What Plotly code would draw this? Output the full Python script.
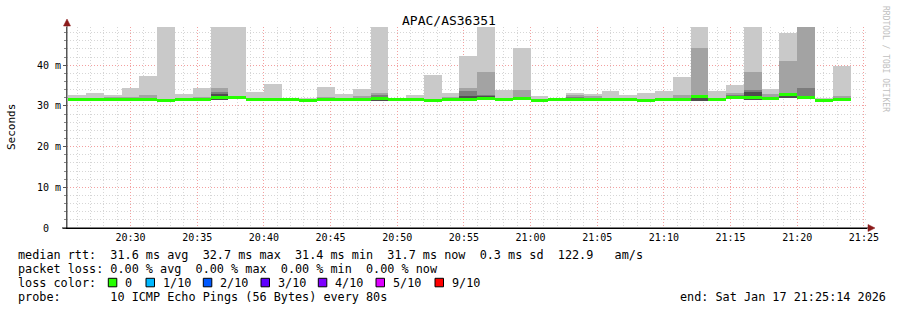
import pandas as pd
import plotly.graph_objects as go

# ---------------- data (ms) ----------------
step_seconds = 80
first_slot = "2026-01-17 20:25:20"
range_start = "2026-01-17 20:25:14"
range_end = "2026-01-17 21:25:14"

median = [31.6, 31.7, 31.5, 31.6, 31.6, 31.4, 31.6, 31.6, 32.0, 32.1, 31.6, 31.6,
          31.6, 31.4, 31.6, 31.6, 31.6, 31.8, 31.6, 31.6, 31.4, 31.6, 31.7, 31.8,
          31.6, 31.9, 31.4, 31.6, 31.6, 31.6, 31.6, 31.6, 31.4, 31.5, 31.6, 32.3,
          31.6, 32.0, 32.1, 31.9, 32.7, 32.0, 31.4, 31.7]
smoke_max = [32.7, 33.3, 32.7, 34.4, 37.4, 52.0, 32.9, 34.4, 52.0, 52.0, 33.4, 35.4,
             32.0, 32.0, 34.7, 32.9, 34.2, 52.0, 32.0, 32.7, 37.6, 33.2, 42.3, 52.0,
             33.8, 44.3, 32.5, 32.0, 33.2, 32.9, 33.7, 32.7, 33.2, 33.7, 37.1, 52.0,
             33.7, 35.2, 52.0, 34.2, 47.9, 52.0, 32.0, 39.8]
smoke_p2 = [31.8, 31.9, 32.3, 32.3, 32.7, 31.7, 31.8, 32.2, 34.4, 32.4, 31.9, 31.9,
            31.8, 31.6, 32.2, 31.9, 32.5, 33.2, 31.8, 31.9, 31.7, 32.2, 34.3, 38.4,
            31.9, 33.8, 31.6, 31.8, 32.7, 32.5, 31.9, 31.9, 31.6, 31.8, 32.7, 44.3,
            31.9, 33.2, 38.4, 32.9, 41.1, 52.0, 31.6, 32.5]
smoke_p3 = [31.6, 31.7, 31.5, 31.6, 31.6, 31.4, 31.6, 31.6, 33.4, 32.1, 31.6, 31.6,
            31.6, 31.4, 31.6, 31.6, 31.6, 32.6, 31.6, 31.6, 31.4, 31.6, 33.7, 32.7,
            31.6, 31.9, 31.4, 31.6, 32.2, 31.6, 31.6, 31.6, 31.4, 31.5, 31.6, 32.6,
            31.6, 32.6, 33.9, 32.3, 33.2, 34.4, 31.4, 31.7]
smoke_p4 = [31.6, 31.7, 31.5, 31.6, 31.6, 31.4, 31.6, 31.6, 32.9, 32.1, 31.6, 31.6,
            31.6, 31.4, 31.6, 31.6, 31.6, 32.2, 31.6, 31.6, 31.4, 31.6, 32.4, 32.5,
            31.6, 31.9, 31.4, 31.6, 31.6, 31.6, 31.6, 31.6, 31.4, 31.5, 31.6, 32.4,
            31.6, 32.0, 33.4, 31.9, 32.9, 32.4, 31.4, 31.7]
smoke_min = [31.4, 31.5, 31.3, 31.4, 31.4, 31.1, 31.4, 31.4, 31.4, 31.9, 31.4, 31.4,
             31.4, 31.2, 31.4, 31.4, 31.4, 31.3, 31.4, 31.4, 31.2, 31.4, 31.5, 31.5,
             31.4, 31.7, 31.2, 31.4, 31.4, 31.1, 31.4, 31.4, 31.2, 31.3, 31.4, 31.3,
             31.4, 31.8, 31.4, 31.7, 31.9, 31.8, 31.2, 31.5]
inner_min = [31.4, 31.5, 31.3, 31.4, 31.4, 31.2, 31.4, 31.4, 31.4, 31.9, 31.4, 31.4,
             31.4, 31.2, 31.4, 31.4, 31.4, 31.3, 31.4, 31.4, 31.2, 31.4, 31.5, 31.5,
             31.4, 31.7, 31.2, 31.4, 31.4, 31.4, 31.4, 31.4, 31.2, 31.3, 31.4, 31.3,
             31.4, 31.8, 31.4, 31.7, 31.9, 31.8, 31.2, 31.5]

y_tickvals = [0, 10, 20, 30, 40]
y_ticktext = ["0\u00a0\u00a0", "10 m", "20 m", "30 m", "40 m"]

loss_labels = ["0", "1/10", "2/10", "3/10", "4/10", "5/10", "9/10"]
loss_colors = ["#26ff00", "#00b8ff", "#0059ff", "#5e00ff", "#7e00ff", "#dd00ff", "#ff0000"]

stats_line1 = "median rtt:  31.6 ms avg  32.7 ms max  31.4 ms min  31.7 ms now  0.3 ms sd  122.9   am/s"
stats_line2 = "packet loss: 0.00 % avg  0.00 % max  0.00 % min  0.00 % now"
stats_line3 = "loss color:"
stats_line4 = "probe:       10 ICMP Echo Pings (56 Bytes) every 80s"
end_text = "end: Sat Jan 17 21:25:14 2026"
title_text = "APAC/AS36351"
watermark = "RRDTOOL / TOBI OETIKER"

# ---------------- figure ----------------
n = len(median)
t0 = pd.Timestamp(first_slot)
centers = [t0 + pd.Timedelta(seconds=step_seconds * i + step_seconds / 2) for i in range(n)]
bar_w = step_seconds * 1000

W, H = 897, 310
L, R, T, B = 67, 867, 27, 228
MONO = "DejaVu Sans Mono"


def px(x):
    return (x - L) / (R - L)


def py(y):
    return (B - y) / (B - T)


fig = go.Figure()

bands = [
    (smoke_min, smoke_max, "#c9c9c9"),
    (inner_min, smoke_p2, "#a3a3a3"),
    (inner_min, smoke_p3, "#7c7c7c"),
    (inner_min, smoke_p4, "#4e4e4e"),
]
for lo, hi, col in bands:
    fig.add_trace(go.Bar(
        x=centers, base=lo, y=[h - l for h, l in zip(hi, lo)], width=bar_w,
        marker=dict(color=col, line=dict(width=0)), showlegend=False, hoverinfo="skip"))

fig.add_trace(go.Bar(
    x=centers, base=[m - 0.37 for m in median], y=[0.74] * n, width=bar_w,
    marker=dict(color=loss_colors[0], line=dict(width=0)), showlegend=False))

fig.update_layout(
    width=W, height=H,
    margin=dict(l=L, r=W - R, t=T, b=H - B),
    paper_bgcolor="white", plot_bgcolor="white",
    barmode="overlay", bargap=0,
    font=dict(family=MONO, size=10, color="black"),
    xaxis=dict(
        type="date", range=[range_start, range_end],
        tick0="2026-01-17 20:30:00", dtick=300000, tickformat="%H:%M",
        showgrid=True, gridcolor="#f3a0a0", griddash="1px,2px", gridwidth=1,
        minor=dict(dtick=60000, showgrid=True, gridcolor="#d6d6d6", griddash="1px,2px"),
        showline=True, linecolor="black", linewidth=1, ticks="",
        tickfont=dict(family=MONO, size=10), zeroline=False, fixedrange=True),
    yaxis=dict(
        range=[0, 49.4], tickvals=y_tickvals, ticktext=y_ticktext,
        showgrid=True, gridcolor="#f3a0a0", griddash="1px,2px", gridwidth=1,
        minor=dict(dtick=2, showgrid=True, gridcolor="#d6d6d6", griddash="1px,2px",
                   ticks="outside", ticklen=2, tickcolor="#888"),
        ticks="outside", ticklen=3, tickcolor="#555",
        showline=True, linecolor="#555", linewidth=1, zeroline=False,
        tickfont=dict(family=MONO, size=10), fixedrange=True),
)

shapes = []
arrow_col = "#8b1a1a"
# y axis arrow
shapes.append(dict(type="line", xref="paper", yref="paper", x0=px(67), x1=px(67), y0=py(228), y1=py(24),
                   line=dict(color="#555", width=1)))
shapes.append(dict(type="path", xref="paper", yref="paper",
                   path=f"M {px(67)},{py(19)} L {px(63.5)},{py(26)} L {px(70.5)},{py(26)} Z",
                   fillcolor=arrow_col, line=dict(color=arrow_col, width=0.5)))
# x axis arrow
shapes.append(dict(type="line", xref="paper", yref="paper", x0=px(62), x1=px(870), y0=py(228), y1=py(228),
                   line=dict(color="black", width=1)))
shapes.append(dict(type="path", xref="paper", yref="paper",
                   path=f"M {px(875)},{py(228)} L {px(868)},{py(224.5)} L {px(868)},{py(231.5)} Z",
                   fillcolor=arrow_col, line=dict(color=arrow_col, width=0.5)))

ann = []
nb = lambda s: s.replace(" ", "\u00a0")
ann.append(dict(text=title_text, xref="paper", yref="paper", x=px(448.5), y=py(20),
                xanchor="center", yanchor="middle", showarrow=False, font=dict(family=MONO, size=13)))
ann.append(dict(text="Seconds", xref="paper", yref="paper", x=px(12), y=py(127), textangle=-90,
                xanchor="center", yanchor="middle", showarrow=False, font=dict(family=MONO, size=11)))
ann.append(dict(text=nb(watermark), xref="paper", yref="paper", x=px(886), y=py(59), textangle=90,
                xanchor="center", yanchor="middle", showarrow=False, font=dict(family=MONO, size=8, color="#c0c0c0")))

line_font = dict(family=MONO, size=11.8, color="black")
for txt, yy in [(stats_line1, 255), (stats_line2, 268.5), (stats_line3, 282.5), (stats_line4, 296.5)]:
    ann.append(dict(text=nb(txt), xref="paper", yref="paper", x=px(16), y=py(yy), xanchor="left",
                    yanchor="middle", showarrow=False, font=line_font))
ann.append(dict(text=nb(end_text), xref="paper", yref="paper", x=px(678), y=py(296.5), xanchor="left",
                yanchor="middle", showarrow=False, font=line_font))

sw_x = [108.3, 146, 203.3, 261, 318.3, 376, 435]
lab_x = [123.3, 160.7, 218.3, 275.7, 333.3, 391, 450]
for lab, col, sx, lx in zip(loss_labels, loss_colors, sw_x, lab_x):
    shapes.append(dict(type="rect", xref="paper", yref="paper", x0=px(sx), x1=px(sx + 8.5),
                       y0=py(286.8), y1=py(278.3), fillcolor=col, line=dict(color="black", width=1)))
    ann.append(dict(text=lab, xref="paper", yref="paper", x=px(lx), y=py(282.5), xanchor="left",
                    yanchor="middle", showarrow=False, font=line_font))

fig.update_layout(shapes=shapes, annotations=ann)
fig.write_html("out.html")
